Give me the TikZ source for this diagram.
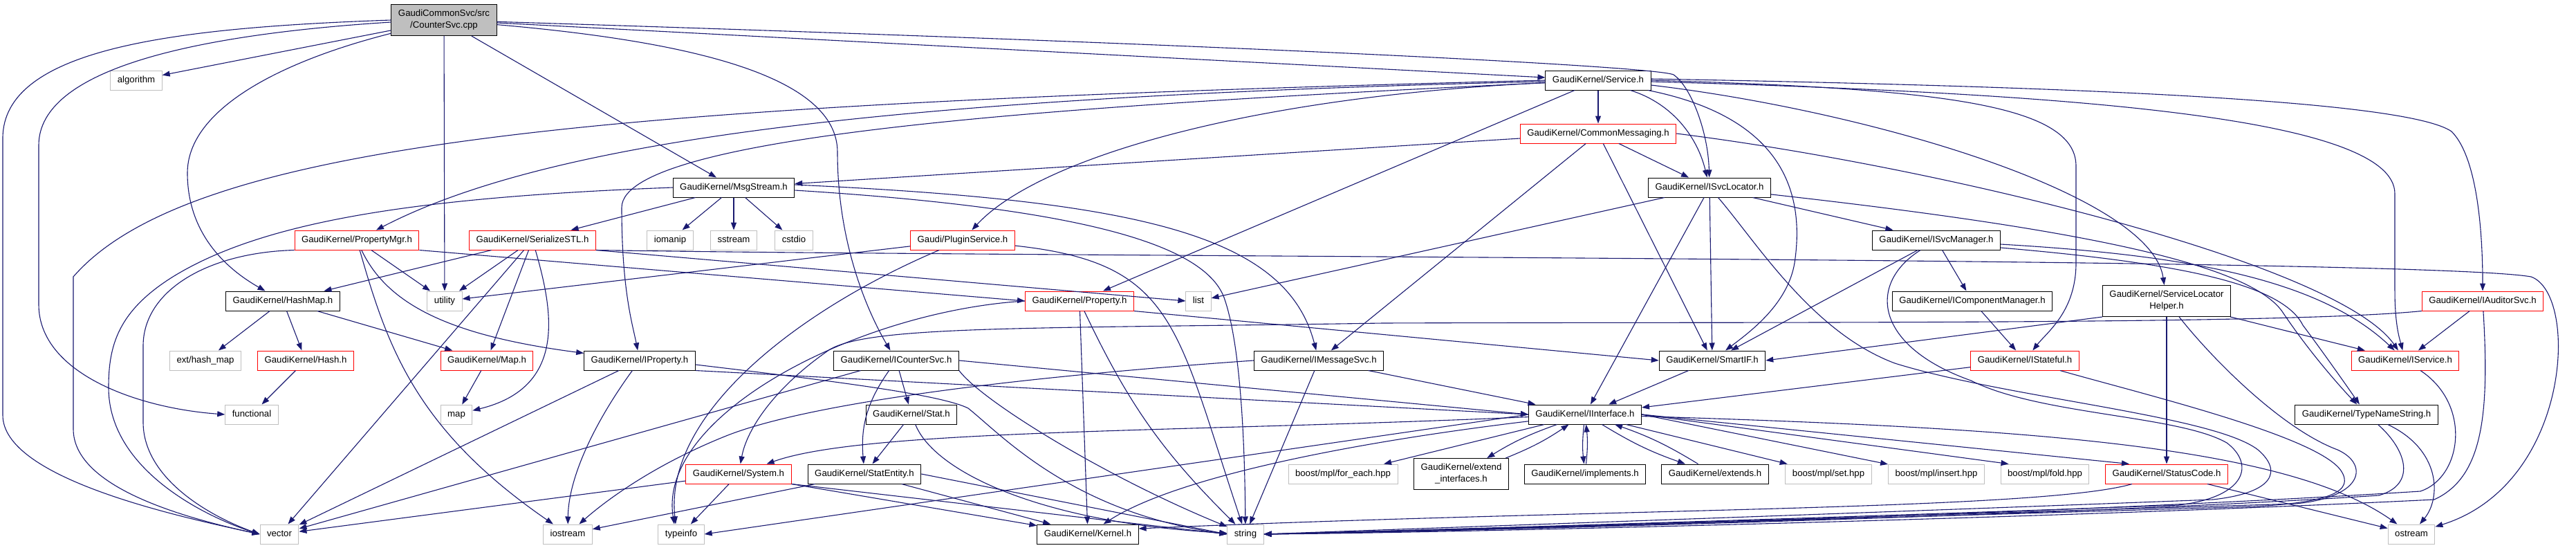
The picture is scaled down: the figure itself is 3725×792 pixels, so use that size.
\documentclass[tikz,border=0pt]{standalone}
\usepackage{fontspec}
\setmainfont{Liberation Sans}
\usetikzlibrary{arrows.meta}
\definecolor{edgeblue}{HTML}{191970}
\definecolor{stdgrey}{HTML}{BFBFBF}

\begin{document}
\begin{tikzpicture}[->,>={Triangle[length=11pt,width=8pt]},shorten >=0pt,x=1pt,y=1pt,
  font=\fontsize{13.2}{17}\selectfont,
  box/.style={rectangle,line width=1pt,inner xsep=10pt,inner ysep=0pt,minimum height=28pt},
  file node/.style={box,draw=black,text height=9.5pt,text depth=2.8pt},
  trunc node/.style={file node,draw=red},
  std node/.style={file node,draw=stdgrey},
  main node/.style={box,draw=black,fill=stdgrey,align=center,minimum height=45pt},
  two node/.style={box,draw=black,align=center,minimum height=45pt},
  link/.style={draw=edgeblue,line width=1.1pt}]

\useasboundingbox (0,0) rectangle (3725,-792);

\node[main node] (root) at (642,-29) {GaudiCommonSvc/src\\/CounterSvc.cpp};
\node[std node] (algorithm) at (197,-116) {algorithm};
\node[file node] (Service) at (2311,-116) {GaudiKernel/Service.h};
\node[trunc node] (CommonMessaging) at (2311,-193) {GaudiKernel/CommonMessaging.h};
\node[file node] (MsgStream) at (1061,-271) {GaudiKernel/MsgStream.h};
\node[file node] (ISvcLocator) at (2472,-271) {GaudiKernel/ISvcLocator.h};
\node[trunc node] (PropertyMgr) at (516,-347) {GaudiKernel/PropertyMgr.h};
\node[trunc node] (SerializeSTL) at (770,-347) {GaudiKernel/SerializeSTL.h};
\node[std node] (iomanip) at (969,-347) {iomanip};
\node[std node] (sstream) at (1061,-347) {sstream};
\node[std node] (cstdio) at (1148,-347) {cstdio};
\node[trunc node] (PluginService) at (1392,-347) {Gaudi/PluginService.h};
\node[file node] (ISvcManager) at (2800,-347) {GaudiKernel/ISvcManager.h};
\node[file node] (HashMap) at (409,-435) {GaudiKernel/HashMap.h};
\node[std node] (utility) at (643,-435) {utility};
\node[trunc node] (Property) at (1561,-435) {GaudiKernel/Property.h};
\node[std node] (list) at (1733,-435) {list};
\node[file node] (IComponentManager) at (2852,-435) {GaudiKernel/IComponentManager.h};
\node[two node] (ServiceLocatorHelper) at (3133,-435) {GaudiKernel/ServiceLocator\\Helper.h};
\node[trunc node] (IAuditorSvc) at (3590,-435) {GaudiKernel/IAuditorSvc.h};
\node[std node] (exthashmap) at (297,-521) {ext/hash\_map};
\node[trunc node] (Hash) at (442,-521) {GaudiKernel/Hash.h};
\node[trunc node] (Map) at (704,-521) {GaudiKernel/Map.h};
\node[file node] (IProperty) at (925,-521) {GaudiKernel/IProperty.h};
\node[file node] (ICounterSvc) at (1296,-521) {GaudiKernel/ICounterSvc.h};
\node[file node] (IMessageSvc) at (1907,-521) {GaudiKernel/IMessageSvc.h};
\node[file node] (SmartIF) at (2476,-521) {GaudiKernel/SmartIF.h};
\node[trunc node] (IStateful) at (2928,-521) {GaudiKernel/IStateful.h};
\node[trunc node] (IService) at (3478,-521) {GaudiKernel/IService.h};
\node[std node] (functional) at (364,-599) {functional};
\node[std node] (map) at (660,-599) {map};
\node[file node] (Stat) at (1318,-599) {GaudiKernel/Stat.h};
\node[file node] (IInterface) at (2292,-599) {GaudiKernel/IInterface.h};
\node[file node] (TypeNameString) at (3422,-599) {GaudiKernel/TypeNameString.h};
\node[trunc node] (System) at (1068,-685) {GaudiKernel/System.h};
\node[file node] (StatEntity) at (1250,-685) {GaudiKernel/StatEntity.h};
\node[std node] (mplforeach) at (1942,-685) {boost/mpl/for\_each.hpp};
\node[two node] (extendinterfaces) at (2113,-685) {GaudiKernel/extend\\\_interfaces.h};
\node[file node] (implements) at (2292,-685) {GaudiKernel/implements.h};
\node[file node] (extends) at (2480,-685) {GaudiKernel/extends.h};
\node[std node] (mplset) at (2644,-685) {boost/mpl/set.hpp};
\node[std node] (mplinsert) at (2800,-685) {boost/mpl/insert.hpp};
\node[std node] (mplfold) at (2957,-685) {boost/mpl/fold.hpp};
\node[trunc node] (StatusCode) at (3133,-685) {GaudiKernel/StatusCode.h};
\node[std node] (vector) at (404,-772) {vector};
\node[std node] (iostream) at (821,-772) {iostream};
\node[std node] (typeinfo) at (985,-772) {typeinfo};
\node[file node] (Kernel) at (1573,-772) {GaudiKernel/Kernel.h};
\node[std node] (string) at (1801,-772) {string};
\node[std node] (ostream) at (3487,-772) {ostream};


\path[every edge/.style={link}]
(root) edge (algorithm)
  edge (utility)
  edge (MsgStream)
  edge (Service)
(Service) edge (CommonMessaging)
  edge (Property)
(CommonMessaging) edge (MsgStream)
  edge (IMessageSvc)
  edge (SmartIF)
  edge (ISvcLocator)
(MsgStream) edge (SerializeSTL)
  edge (iomanip)
  edge (sstream)
  edge (cstdio)
(PropertyMgr) edge (utility)
(PropertyMgr.south east) edge (Property.west)
(SerializeSTL) edge (HashMap)
  edge (utility)
  edge (Map)
  edge (vector)
(SerializeSTL.south east) edge (list.west)
(HashMap) edge (exthashmap)
  edge (Hash)
  edge (Map)
(Hash) edge (functional)
(Map) edge (map)
(PluginService) edge (utility)
(Property) edge (Kernel)
  edge [bend right=10] (string)
(Property.south east) edge (SmartIF.west)
(IProperty) edge (vector)
(IProperty.south east) edge (IInterface.west)
(ICounterSvc) edge (Stat)
  edge [bend right=20] (StatEntity)
  edge (vector)
(ICounterSvc.east) edge (IInterface.west)
(Stat) edge (StatEntity)
(StatEntity) edge (iostream)
  edge (Kernel)
(StatEntity.east) edge (string.west)
(System) edge (vector)
  edge (typeinfo)
(System.south east) edge (Kernel)
  edge (string.west)
(IMessageSvc) edge (IInterface)
  edge (string)
(SmartIF) edge (IInterface)
(ISvcLocator) edge (ISvcManager)
  edge (IInterface)
  edge (SmartIF)
  edge (list)
(ISvcManager) edge (IComponentManager)
  edge (SmartIF)
(IComponentManager) edge (IStateful)
(ServiceLocatorHelper) edge (StatusCode)
  edge (IService)
(ServiceLocatorHelper.south west) edge (SmartIF.east)
(IAuditorSvc) edge (IService)
(IStateful) edge (IInterface)
(IInterface) edge (mplforeach)
  edge (mplset)
  edge [bend right=6] (extendinterfaces)
  edge [bend right=6] (implements)
  edge [bend right=6] (extends)
(IInterface.east) edge (mplinsert)
  edge ([xshift=12pt]mplfold.north west)
  edge ([xshift=35pt]StatusCode.north west)
(IInterface.west) edge (typeinfo.east)
(extendinterfaces) edge [bend right=6] (IInterface)
(implements) edge [bend right=6] (IInterface)
(extends) edge [bend right=6] (IInterface)
(StatusCode) edge (ostream)
;

\draw[link] (root.west) .. controls (250,-40) and (4,-70) .. (4,-200) -- (4,-600) .. controls (4,-690) and (250,-745) .. (vector.west);
\draw[link] ([yshift=-3pt]root.west) .. controls (280,-50) and (56,-100) .. (56,-210) -- (56,-440) .. controls (56,-540) and (200,-590) .. (functional.west);
\draw[link] (root) .. controls (400,-90) and (271,-160) .. (271,-250) .. controls (271,-340) and (330,-390) .. (HashMap);
\draw[link] (root) .. controls (1000,-60) and (1211,-110) .. (1211,-220) .. controls (1211,-360) and (1260,-460) .. (ICounterSvc);
\draw[link] (root) .. controls (1800,-65) and (2395,-96) .. (2420,-108) .. controls (2445,-125) and (2470,-190) .. (ISvcLocator);

\draw[link] (Service.west) .. controls (900,-150) and (280,-200) .. (106,-400) -- (106,-620) .. controls (106,-700) and (250,-745) .. (vector.west);
\draw[link] (Service) .. controls (1300,-140) and (800,-200) .. (PropertyMgr);
\draw[link] (Service) .. controls (1600,-150) and (899,-190) .. (899,-300) .. controls (899,-420) and (915,-470) .. (IProperty);
\draw[link] (Service) .. controls (1800,-140) and (1500,-230) .. (PluginService);
\draw[link] (Service) .. controls (2420,-150) and (2455,-200) .. (ISvcLocator);
\draw[link] (Service) .. controls (2580,-170) and (2610,-280) .. (2595,-380) .. controls (2585,-440) and (2530,-480) .. (SmartIF);
\draw[link] ([yshift=2pt]Service.east) .. controls (3000,-125) and (3480,-145) .. (3545,-190) .. controls (3585,-230) and (3590,-350) .. (IAuditorSvc);
\draw[link] (Service.east) .. controls (2800,-128) and (3002,-150) .. (3002,-240) -- (3002,-380) .. controls (3002,-450) and (2960,-480) .. (IStateful);
\draw[link] ([yshift=-2pt]Service.east) .. controls (3000,-135) and (3463,-170) .. (3463,-280) -- (3463,-420) .. controls (3463,-470) and (3470,-490) .. (IService);
\draw[link] ([yshift=-7pt]Service.east) .. controls (2700,-160) and (3110,-280) .. (ServiceLocatorHelper);
\draw[link] (CommonMessaging.east) .. controls (2800,-240) and (3380,-380) .. (IService);

\draw[link] (MsgStream.west) .. controls (600,-285) and (380,-320) .. (250,-400) .. controls (170,-450) and (157,-500) .. (157,-560) .. controls (157,-680) and (300,-748) .. (vector.west);
\draw[link] ([yshift=4pt]MsgStream.east) .. controls (1650,-290) and (1860,-340) .. (IMessageSvc);
\draw[link] ([yshift=-4pt]MsgStream.east) .. controls (1550,-300) and (1740,-350) .. (1770,-430) .. controls (1795,-500) and (1800,-650) .. (string);

\draw[link] (PropertyMgr.south west) .. controls (300,-365) and (207,-420) .. (207,-500) -- (207,-610) .. controls (207,-690) and (300,-745) .. (vector.west);
\draw[link] (PropertyMgr) .. controls (560,-500) and (600,-620) .. (iostream);
\draw[link] (PropertyMgr) .. controls (560,-440) and (650,-485) .. (IProperty);
\draw[link] (SerializeSTL) .. controls (800,-450) and (820,-560) .. (map);
\draw[link] (SerializeSTL.south east) .. controls (1500,-372) and (3500,-372) .. (3660,-400) .. controls (3730,-425) and (3718,-700) .. (ostream);

\draw[link] (PluginService) .. controls (1150,-450) and (960,-600) .. ([xshift=-8pt]typeinfo.north);
\draw[link] (PluginService) .. controls (1700,-380) and (1700,-470) .. (string);
\draw[link] (Property.west) .. controls (1240,-450) and (950,-600) .. ([xshift=-10pt]typeinfo.north);
\draw[link] (IProperty) .. controls (860,-610) and (822,-690) .. (iostream);
\draw[link] ([yshift=-6pt]IProperty.east) .. controls (1200,-550) and (1360,-570) .. (1400,-590) .. controls (1450,-630) and (1550,-740) .. (string.west);
\draw[link] (ICounterSvc.south east) .. controls (1420,-580) and (1600,-690) .. (string);
\draw[link] (Stat) .. controls (1350,-680) and (1500,-755) .. (string);
\draw[link] (IMessageSvc.west) .. controls (1400,-550) and (1150,-590) .. (1050,-630) .. controls (950,-670) and (880,-720) .. (iostream);

\draw[link] (IInterface) .. controls (1700,-625) and (1250,-620) .. (System);
\draw[link] (IInterface) .. controls (1950,-640) and (1700,-690) .. (Kernel);
\draw[link] (IInterface) .. controls (2900,-618) and (3300,-640) .. (ostream);
\draw[link] (StatusCode) .. controls (2950,-738) and (2300,-735) .. ([yshift=8pt]Kernel.east);

\draw[link] (ISvcLocator) .. controls (3000,-330) and (3250,-380) .. (3300,-450) .. controls (3340,-510) and (3385,-560) .. (TypeNameString);
\draw[link] (ISvcLocator) .. controls (2540,-350) and (2620,-480) .. (2740,-525) .. controls (2900,-575) and (3200,-600) .. (3265,-650) .. controls (3300,-680) and (3290,-712) .. (3200,-722) .. controls (2600,-745) and (2100,-762) .. (string.east);
\draw[link] ([yshift=-6pt]ISvcManager.east) .. controls (3150,-368) and (3350,-400) .. (IService);
\draw[link] ([yshift=-11pt]ISvcManager.east) .. controls (3150,-380) and (3300,-410) .. (3330,-470) .. controls (3360,-510) and (3395,-560) .. (TypeNameString);
\draw[link] (ISvcManager) .. controls (2700,-410) and (2710,-500) .. (2850,-550) .. controls (2950,-600) and (3150,-600) .. (3220,-640) .. controls (3260,-670) and (3250,-718) .. (3150,-730) .. controls (2600,-750) and (2100,-765) .. (string.east);
\draw[link] (IStateful) .. controls (3100,-570) and (3350,-630) .. (3385,-680) .. controls (3405,-710) and (3370,-726) .. (3260,-732) .. controls (2600,-752) and (2100,-766) .. (string.east);
\draw[link] (ServiceLocatorHelper) .. controls (3200,-520) and (3300,-620) .. (3380,-650) .. controls (3425,-670) and (3420,-718) .. (3320,-728) .. controls (2600,-750) and (2100,-766) .. (string.east);
\draw[link] (TypeNameString) .. controls (3480,-650) and (3495,-700) .. (3440,-716) .. controls (3000,-745) and (2100,-768) .. (string.east);
\draw[link] (TypeNameString) .. controls (3530,-650) and (3530,-720) .. (ostream);
\draw[link] (IService) .. controls (3575,-585) and (3560,-690) .. (3500,-710) .. controls (3000,-742) and (2100,-768) .. (string.east);
\draw[link] (IAuditorSvc.south west) .. controls (3300,-470) and (2500,-465) .. (2000,-467) .. controls (1500,-475) and (1260,-470) .. (1200,-505) .. controls (1120,-560) and (1080,-620) .. (System);
\draw[link] (IAuditorSvc) .. controls (3600,-600) and (3590,-690) .. (3520,-722) .. controls (3000,-748) and (2100,-770) .. (string.east);
\end{tikzpicture}
\end{document}
